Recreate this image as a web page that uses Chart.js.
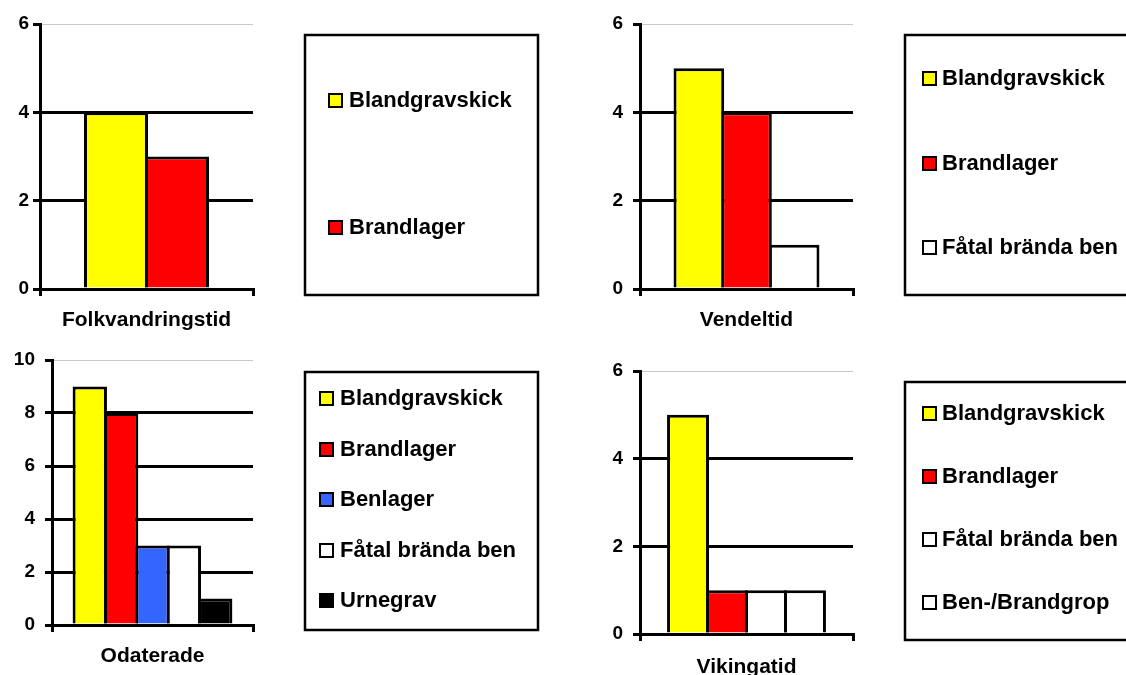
<!DOCTYPE html>
<html>
<head>
<meta charset="utf-8">
<script src="https://cdn.jsdelivr.net/npm/chart.js@4.4.1/dist/chart.umd.min.js"></script>
<style>
    html, body { margin: 0; padding: 0; background: #fff; }
    #wrap { position: relative; width: 1126px; height: 675px; overflow: hidden; }
    .panel { position: absolute; }
</style>
</head>
<body>
<div id="wrap">
    <div class="panel" style="left:0;top:0"><canvas id="c1" width="563" height="338"></canvas></div>
    <div class="panel" style="left:563px;top:0"><canvas id="c2" width="563" height="338"></canvas></div>
    <div class="panel" style="left:0;top:338px"><canvas id="c3" width="563" height="337"></canvas></div>
    <div class="panel" style="left:563px;top:338px"><canvas id="c4" width="563" height="337"></canvas></div>
</div>
<script>
// data
const periods = ['Folkvandringstid', 'Vendeltid', 'Odaterade', 'Vikingatid'];

const folkSeries = ['Blandgravskick', 'Brandlager'];
const folkValues = [4, 3];

const vendelSeries = ['Blandgravskick', 'Brandlager', 'Fåtal brända ben'];
const vendelValues = [5, 4, 1];

const odatSeries = ['Blandgravskick', 'Brandlager', 'Benlager', 'Fåtal brända ben', 'Urnegrav'];
const odatValues = [9, 8, 3, 3, 1];

const vikingSeries = ['Blandgravskick', 'Brandlager', 'Fåtal brända ben', 'Ben-/Brandgrop'];
const vikingValues = [5, 1, 1, 1];

const yMaxValues = [6, 6, 10, 6];

const seriesColors = {
    'Blandgravskick': '#ffff00',
    'Brandlager': '#ff0000',
    'Benlager': '#3366ff',
    'Fåtal brända ben': '#ffffff',
    'Urnegrav': '#000000',
    'Ben-/Brandgrop': '#ffffff'
};

const FONT = '"Liberation Sans", Arial, sans-serif';
const LINE = 3;

// legend drawn in a box to the right of each plot
const boxLegend = {
    id: 'boxLegend',
    afterDraw(chart, args, opts) {
        const ctx = chart.ctx;
        ctx.save();
        ctx.strokeStyle = '#000';
        ctx.lineWidth = 2.5;
        ctx.strokeRect(opts.x, opts.y, opts.w, opts.h);
        ctx.font = 'bold 22px ' + FONT;
        ctx.textBaseline = 'middle';
        ctx.textAlign = 'left';
        chart.data.datasets.forEach((ds, i) => {
            let cy = Math.round(opts.first + i * opts.step);
            ctx.fillStyle = '#000';
            ctx.fillRect(opts.mx, cy - 7, 15, 15);
            ctx.fillStyle = ds.backgroundColor;
            ctx.fillRect(opts.mx + 2, cy - 5, 11, 11);
            ctx.fillStyle = '#000';
            ctx.fillText(ds.label, opts.tx, cy + 1);
        });
        ctx.restore();
    }
};

function makeChart(id, period, series, values, yMax, geo) {
    let plotWidth = 563 - geo.yw - geo.right;
    let barWidth = plotWidth * geo.catPct / series.length;

    return new Chart(document.getElementById(id), {
        type: 'bar',
        data: {
            labels: [period],
            datasets: series.map((name, i) => ({
                label: name,
                data: [values[i]],
                backgroundColor: seriesColors[name],
                borderColor: '#000',
                borderWidth: LINE,
                borderSkipped: 'start',
                barPercentage: 1 + LINE / barWidth,
                categoryPercentage: geo.catPct
            }))
        },
        options: {
            responsive: false,
            animation: false,
            layout: { padding: { left: 0, top: geo.top, right: geo.right, bottom: 0 } },
            plugins: {
                legend: { display: false },
                tooltip: { enabled: false },
                boxLegend: geo.legend
            },
            scales: {
                x: {
                    grid: { display: true, drawOnChartArea: false, offset: true, color: '#000', lineWidth: LINE, tickLength: 7 },
                    border: { color: '#000', width: LINE },
                    ticks: { color: '#000', font: { family: FONT, weight: 'bold', size: 21 }, padding: geo.labelPad },
                    afterFit: (s) => { s.height = geo.xh; }
                },
                y: {
                    min: 0,
                    max: yMax,
                    ticks: { stepSize: 2, color: '#000', font: { family: FONT, weight: 'bold', size: 19 }, padding: geo.tickPad },
                    grid: {
                        color: (c) => (c.tick && c.tick.value === yMax) ? '#c8c8c8' : '#000',
                        lineWidth: (c) => (c.tick && c.tick.value === yMax) ? 1 : LINE,
                        tickColor: '#000',
                        tickWidth: LINE,
                        tickLength: 7
                    },
                    border: { color: '#000', width: LINE },
                    afterFit: (s) => {
                        s.width = geo.yw;
                        s.paddingTop = 0;
                        s.paddingBottom = 0;
                    }
                }
            }
        },
        plugins: [boxLegend]
    });
}

makeChart('c1', periods[0], folkSeries, folkValues, yMaxValues[0], {
    yw: 40, top: 24, right: 310, xh: 49, catPct: 0.573, labelPad: 12, tickPad: 4,
    legend: { x: 305, y: 35, w: 233, h: 260, first: 100, step: 127, mx: 328, tx: 349 }
});
makeChart('c2', periods[1], vendelSeries, vendelValues, yMaxValues[1], {
    yw: 77, top: 24, right: 273, xh: 49, catPct: 0.671, labelPad: 12, tickPad: 10,
    legend: { x: 342, y: 35, w: 240, h: 260, first: 78, step: 84.5, mx: 359, tx: 379 }
});
makeChart('c3', periods[2], odatSeries, odatValues, yMaxValues[2], {
    yw: 52, top: 22, right: 310, xh: 50, catPct: 0.78, labelPad: 12, tickPad: 10,
    legend: { x: 305, y: 34, w: 233, h: 258, first: 60, step: 50.5, mx: 319, tx: 340 }
});
makeChart('c4', periods[3], vikingSeries, vikingValues, yMaxValues[3], {
    yw: 77, top: 33, right: 273, xh: 41, catPct: 0.732, labelPad: 14, tickPad: 10,
    legend: { x: 342, y: 44, w: 240, h: 258, first: 75, step: 63, mx: 359, tx: 379 }
});
</script>
</body>
</html>
